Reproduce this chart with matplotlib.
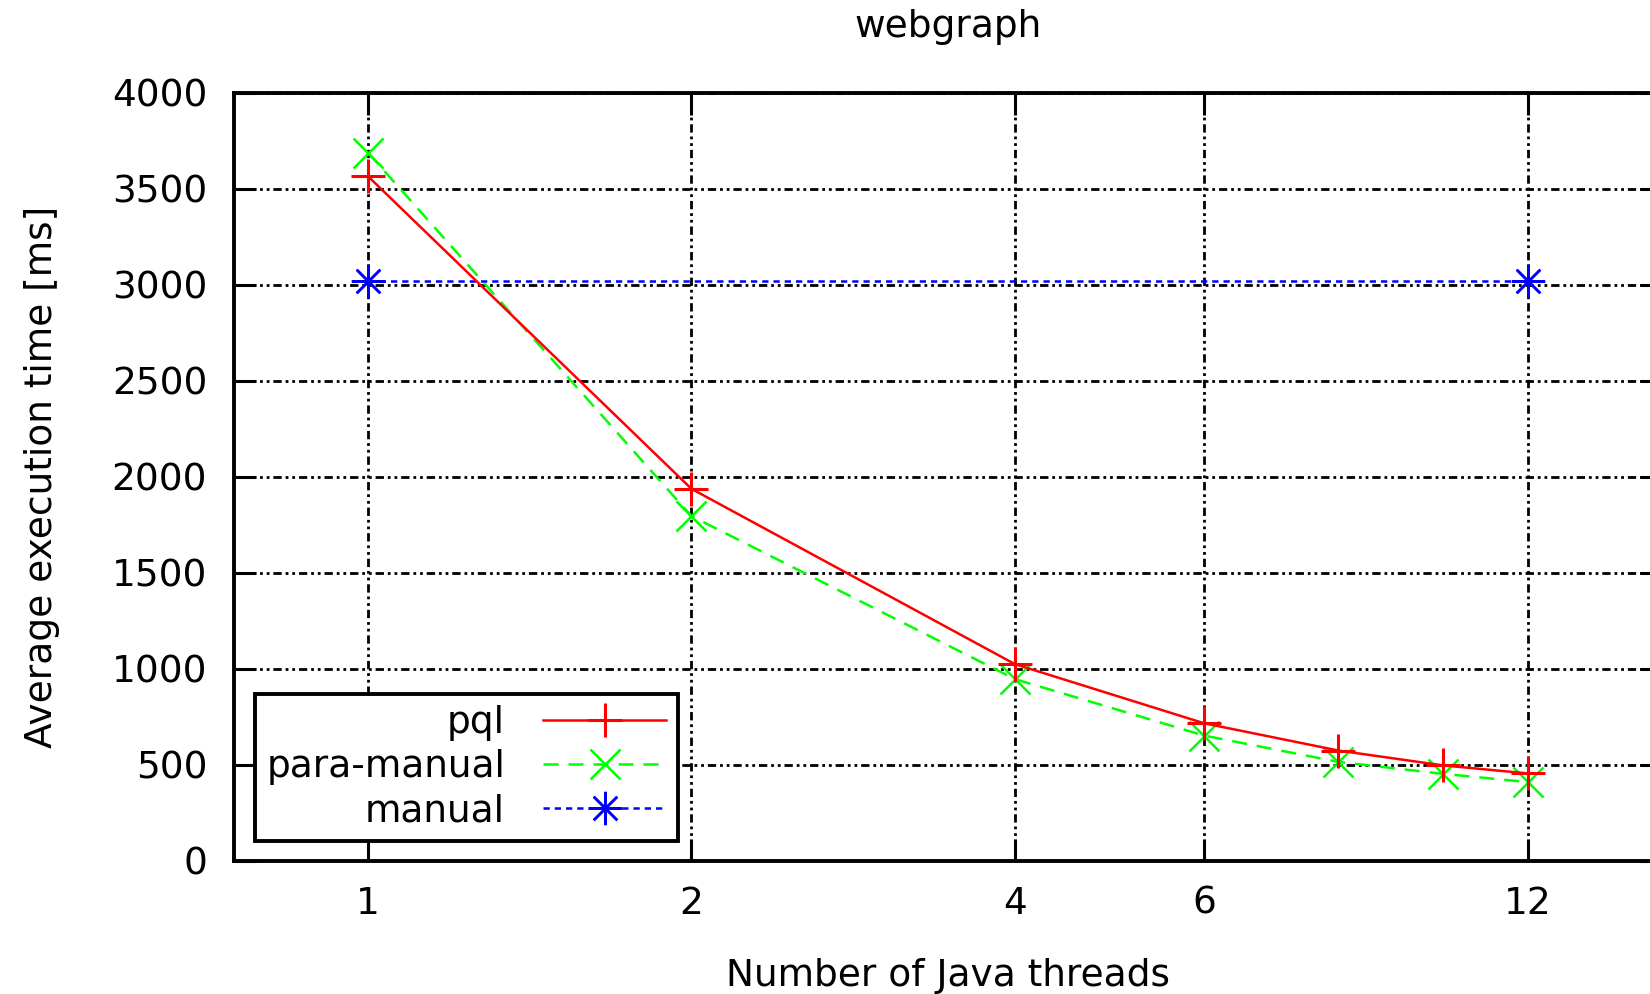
import matplotlib
matplotlib.use('Agg')
import matplotlib.pyplot as plt
from matplotlib.ticker import NullLocator, FixedLocator

# data
threads = [1, 2, 4, 6, 8, 10, 12]
pql = [3565, 1937, 1024, 716, 574, 497, 455]
para_manual = [3688, 1795, 946, 652, 515, 453, 410]
manual_threads = [1, 12]
manual = [3020, 3020]

xtick_vals = [1, 2, 4, 6, 12]
ytick_vals = list(range(0, 4001, 500))

fs = 27
plt.rcParams['font.family'] = ['DejaVu Sans']

fig = plt.figure(figsize=(16.5, 9.94), dpi=100)
# axes run past the right edge of the figure, like the cropped original
ax = fig.add_axes([233.6 / 1650, 1 - 860.8 / 994, (1662 - 233.6) / 1650, (860.8 - 92.6) / 994])

ax.plot(threads, pql, color='#ff0000', lw=1.8, marker='+', ms=24, mew=2.2, label='pql', zorder=4)
ax.plot(threads, para_manual, color='#00ff00', lw=1.8, ls=(0, (6, 4)), marker='x', ms=22, mew=1.8,
        label='para-manual', zorder=3)
ax.plot(manual_threads, manual, color='#0000ff', lw=1.8, ls=(0, (2.5, 2)), marker=(8, 2, 0), ms=24, mew=1.8,
        label='manual', zorder=3)

ax.set_xscale('log', base=2)
ax.set_xlim(0.75, 16)
ax.set_ylim(0, 4000)
ax.xaxis.set_major_locator(FixedLocator(xtick_vals))
ax.xaxis.set_minor_locator(NullLocator())
ax.set_xticklabels([str(v) for v in xtick_vals])
ax.set_yticks(ytick_vals)

ax.grid(True, color='black', lw=2.0, ls=(0, (1, 1.4, 1, 1.4, 3, 1.4)))
ax.set_axisbelow(True)

for s in ax.spines.values():
    s.set_linewidth(2.8)
ax.tick_params(axis='both', direction='in', length=16, width=2.2, labelsize=fs, top=True, right=True)
ax.tick_params(axis='x', pad=18)
ax.tick_params(axis='y', pad=19)

ax.set_title('webgraph', fontsize=fs, pad=40)
ax.set_xlabel('Number of Java threads', fontsize=fs, labelpad=26)
ax.set_ylabel('Average execution time [ms]', fontsize=fs, labelpad=37)

leg = ax.legend(loc='lower left', bbox_to_anchor=(255 / 1650, 1 - 840.7 / 994), bbox_transform=fig.transFigure,
                borderaxespad=0, markerfirst=False, fontsize=fs, handlelength=3.3, handletextpad=1.0,
                labelspacing=0.22, borderpad=0.3, fancybox=False, framealpha=1, edgecolor='black')
leg.get_frame().set_linewidth(2.8)

fig.savefig('out.png', dpi=100)
